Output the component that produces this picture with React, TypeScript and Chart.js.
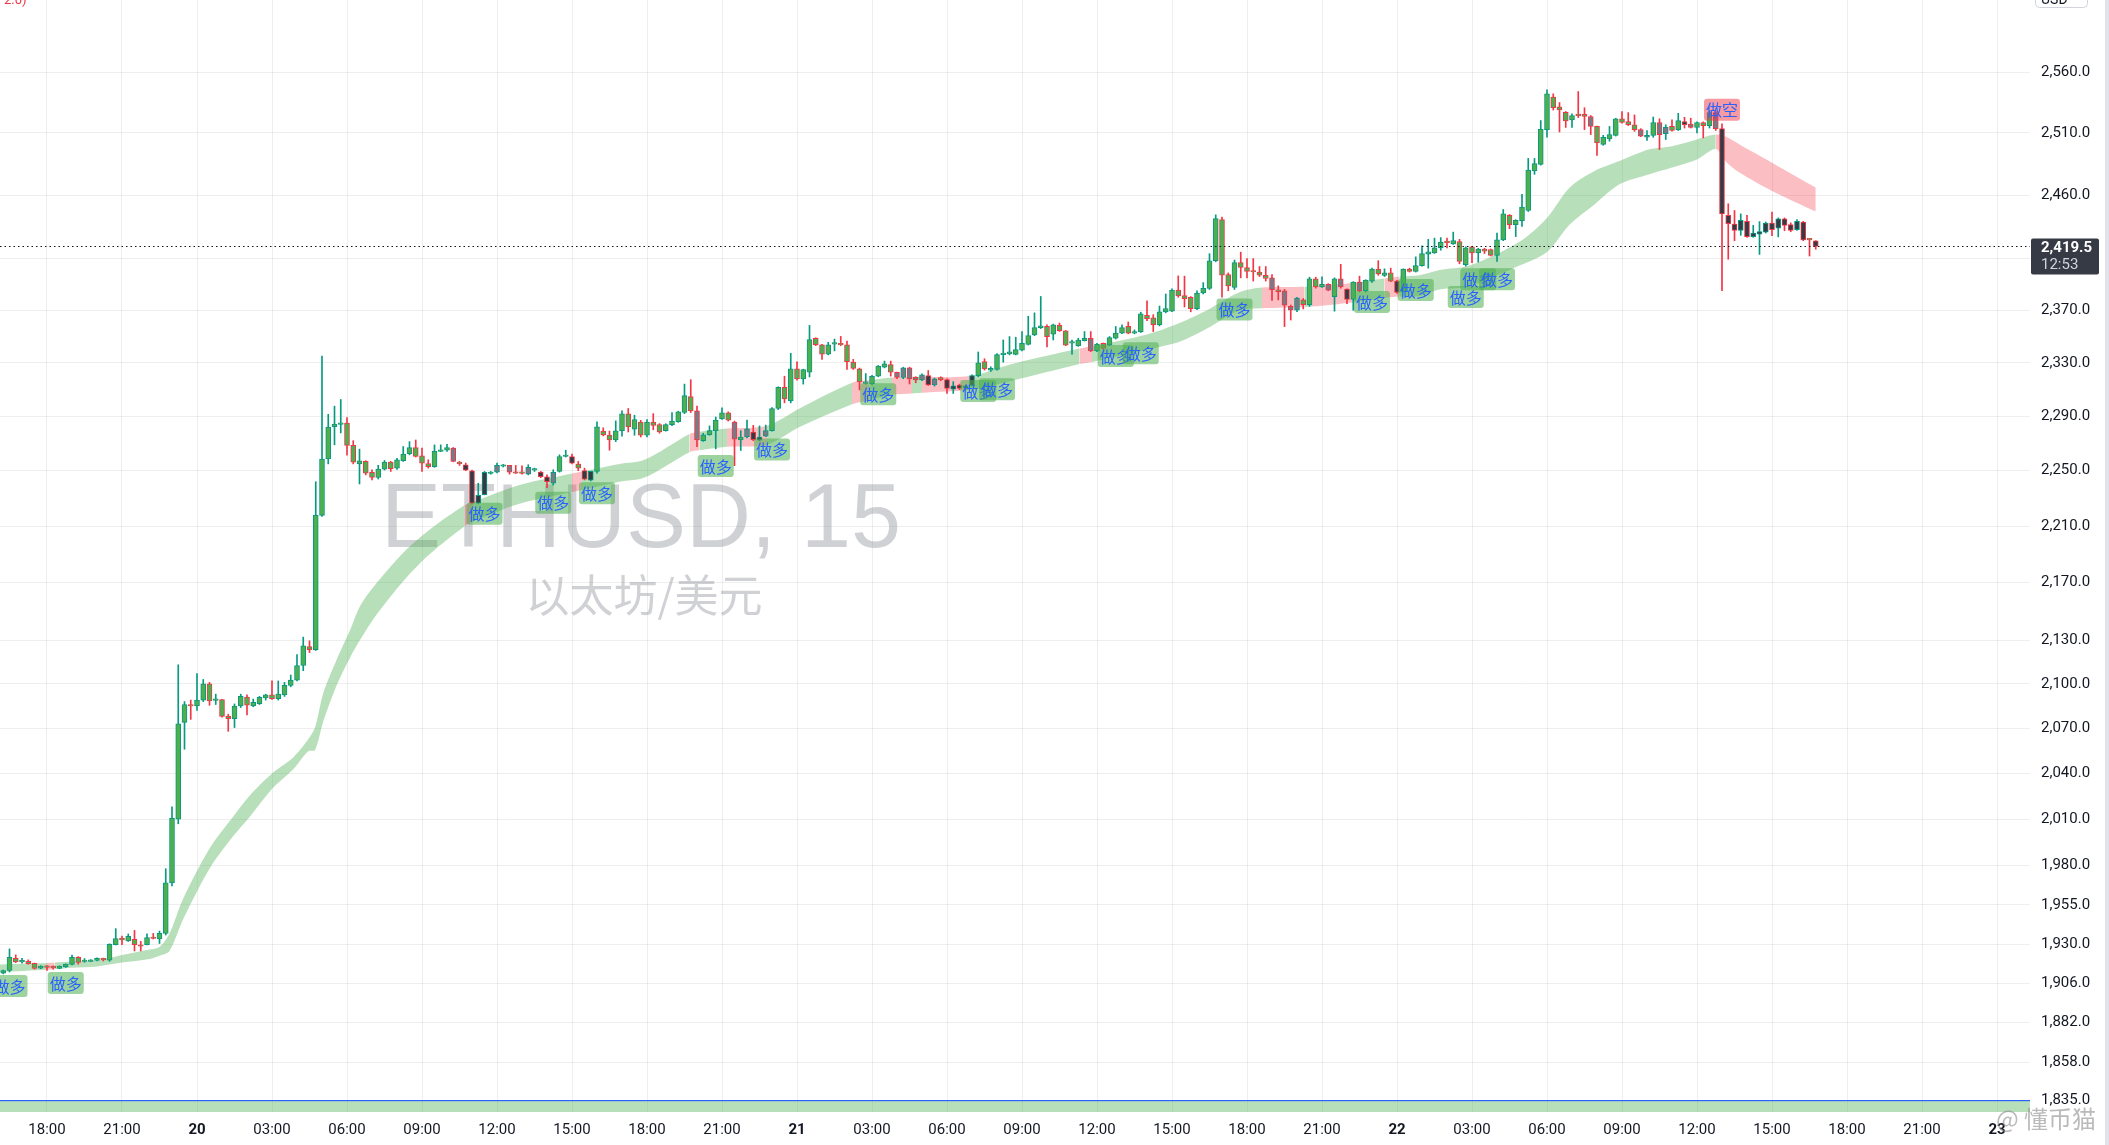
import React, { useEffect, useRef } from 'react';
import { Chart, registerables } from 'chart.js';

Chart.register(...registerables);

// ---------- time axis (hours counted from day 19, 00:00; one bar = 15 min) ----------
const FIRST_DAY = 19;
const FIRST_BAR_HOUR = 16.25;
const BAR_HOURS = 0.25;
const X_MIN_HOUR = 16.12;
const X_MAX_HOUR = 97.32;
const X_TICK_HOURS = [18, 21, 24, 27, 30, 33, 36, 39, 42, 45, 48, 51, 54, 57, 60, 63, 66, 69, 72, 75, 78, 81, 84, 87, 90, 93, 96];

// ---------- price axis ----------
const Y_MIN = 1828.2;
const Y_MAX = 2620.4;
const Y_TICKS = [1835, 1858, 1882, 1906, 1930, 1955, 1980, 2010, 2040, 2070, 2100, 2130, 2170, 2210, 2250, 2290, 2330, 2370, 2410, 2460, 2510, 2560];
const HIDDEN_Y_TICKS = [2410];
const LAST_PRICE = 2419.5;
const COUNTDOWN = '12:53';

const SYMBOL_TITLE = 'ETHUSD, 15';
const SYMBOL_DESC = '以太坊/美元';
const CURRENCY = 'USD';
const CORNER_TEXT = '2.0)';
const CREDIT = '@ 懂币猫';

// ---------- candles (ETHUSD 15m) ----------
const OPEN = [
  1912.2, 1914.0, 1921.5, 1919.2, 1919.6, 1918.3, 1915.4, 1916.6, 1916.2, 1915.2,
  1916.2, 1917.6, 1922.0, 1919.5, 1919.6, 1920.1, 1921.5, 1920.3, 1930.0, 1933.8,
  1932.3, 1933.3, 1929.8, 1930.0, 1934.6, 1933.6, 1937.0, 1969.0, 2010.0, 2074.0,
  2086.0, 2085.0, 2089.0, 2100.0, 2088.8, 2089.3, 2078.0, 2076.5, 2085.0, 2091.0,
  2085.0, 2086.5, 2090.5, 2092.5, 2090.0, 2092.5, 2099.0, 2102.5, 2112.5, 2125.5,
  2123.3, 2217.7, 2258.6, 2282.3, 2284.0, 2285.0, 2268.6, 2254.9, 2256.8, 2248.8,
  2245.1, 2251.2, 2256.3, 2251.9, 2257.3, 2262.4, 2267.0, 2260.9, 2255.3, 2252.9,
  2264.1, 2265.0, 2266.5, 2256.3, 2254.4, 2250.0, 2226.5, 2232.7, 2248.0, 2249.0,
  2253.3, 2253.9, 2248.9, 2248.8, 2247.5, 2250.4, 2249.0, 2245.6, 2240.9, 2249.5,
  2260.4, 2260.4, 2254.9, 2250.2, 2243.1, 2249.5, 2279.1, 2276.2, 2272.5, 2279.4,
  2291.8, 2280.4, 2285.8, 2276.0, 2285.8, 2283.8, 2279.4, 2283.8, 2286.0, 2292.8,
  2304.7, 2294.0, 2272.0, 2276.4, 2279.4, 2288.0, 2292.5, 2285.8, 2272.5, 2274.7,
  2278.4, 2272.3, 2275.4, 2279.4, 2295.8, 2311.5, 2301.6, 2325.4, 2317.8, 2322.9,
  2348.6, 2343.7, 2336.5, 2344.2, 2344.4, 2343.7, 2330.5, 2325.4, 2314.6, 2314.3,
  2319.9, 2326.7, 2328.7, 2322.9, 2319.1, 2326.2, 2319.1, 2317.1, 2320.4, 2313.3,
  2318.9, 2317.4, 2310.3, 2313.3, 2310.9, 2312.8, 2320.4, 2331.0, 2324.4, 2325.0,
  2336.2, 2336.7, 2336.4, 2339.6, 2344.0, 2351.2, 2356.6, 2357.6, 2351.7, 2358.4,
  2354.3, 2344.9, 2342.9, 2346.8, 2348.6, 2339.0, 2344.7, 2343.4, 2348.6, 2352.5,
  2357.6, 2352.5, 2353.7, 2366.1, 2364.1, 2358.9, 2368.7, 2369.2, 2385.6, 2381.3,
  2380.0, 2371.3, 2383.3, 2386.8, 2408.3, 2440.5, 2397.5, 2387.5, 2406.8, 2403.0,
  2400.5, 2399.5, 2397.0, 2395.0, 2385.8, 2385.0, 2373.0, 2370.0, 2378.0, 2374.3,
  2394.3, 2388.0, 2390.0, 2380.5, 2394.3, 2386.3, 2378.3, 2391.8, 2385.0, 2392.5,
  2401.8, 2396.8, 2398.8, 2392.5, 2384.3, 2401.8, 2400.0, 2404.5, 2413.5, 2414.4,
  2418.4, 2423.2, 2421.4, 2423.2, 2405.3, 2419.2, 2414.4, 2417.4, 2417.0, 2412.5,
  2424.6, 2444.0, 2436.6, 2439.8, 2447.8, 2479.3, 2484.6, 2512.7, 2539.4, 2531.4,
  2526.8, 2520.7, 2524.9, 2525.2, 2523.4, 2515.3, 2500.7, 2505.2, 2508.1, 2521.5,
  2519.3, 2516.7, 2512.7, 2506.5, 2508.1, 2518.5, 2509.5, 2515.3, 2512.7, 2519.3,
  2517.2, 2514.5, 2518.5, 2515.9, 2526.6, 2513.5, 2444.0, 2437.1, 2432.0, 2439.2,
  2427.2, 2429.1, 2430.7, 2437.9, 2433.9, 2441.1, 2436.6, 2432.6, 2438.7, 2425.4,
  2423.8,
];
const HIGH = [
  1914.2, 1927.3, 1923.6, 1921.5, 1920.5, 1918.5, 1916.9, 1916.9, 1916.8, 1916.8,
  1918.0, 1923.4, 1922.5, 1921.3, 1920.6, 1921.7, 1921.6, 1930.5, 1940.0, 1935.3,
  1936.7, 1938.9, 1932.1, 1936.7, 1937.0, 1938.5, 1978.0, 2018.0, 2113.0, 2088.0,
  2089.0, 2107.0, 2103.0, 2101.0, 2093.0, 2089.5, 2079.5, 2086.4, 2093.0, 2092.5,
  2089.7, 2091.5, 2093.0, 2102.0, 2102.0, 2101.0, 2106.0, 2120.0, 2132.0, 2129.5,
  2242.0, 2335.0, 2291.5, 2297.5, 2302.5, 2289.0, 2272.0, 2265.8, 2257.3, 2250.7,
  2254.0, 2257.5, 2256.8, 2259.0, 2267.7, 2271.3, 2272.5, 2266.5, 2258.0, 2268.9,
  2268.9, 2269.4, 2267.0, 2256.8, 2255.6, 2250.5, 2240.9, 2249.5, 2249.5, 2255.6,
  2254.6, 2254.0, 2253.9, 2253.6, 2254.4, 2251.9, 2249.5, 2247.0, 2250.7, 2261.6,
  2265.0, 2262.1, 2256.8, 2251.9, 2249.7, 2285.9, 2281.5, 2279.1, 2286.6, 2294.0,
  2295.8, 2290.8, 2287.0, 2287.5, 2292.0, 2284.6, 2284.5, 2292.8, 2293.8, 2314.0,
  2317.3, 2297.6, 2277.5, 2282.9, 2289.5, 2296.3, 2293.3, 2286.5, 2279.4, 2287.2,
  2283.3, 2282.9, 2283.5, 2296.5, 2312.0, 2319.9, 2337.2, 2330.8, 2325.2, 2358.4,
  2349.0, 2344.0, 2345.5, 2348.0, 2350.0, 2346.5, 2332.6, 2326.0, 2321.9, 2320.5,
  2328.0, 2331.3, 2331.3, 2323.0, 2326.7, 2326.7, 2319.5, 2321.7, 2324.2, 2318.5,
  2319.5, 2318.0, 2315.8, 2314.0, 2313.3, 2321.0, 2338.2, 2333.1, 2327.0, 2337.0,
  2347.3, 2349.9, 2349.4, 2353.7, 2365.4, 2368.0, 2380.6, 2358.9, 2359.4, 2360.2,
  2354.5, 2347.3, 2348.6, 2353.7, 2353.7, 2344.7, 2345.0, 2349.9, 2357.6, 2358.9,
  2361.0, 2355.0, 2368.5, 2377.2, 2366.6, 2373.2, 2382.5, 2386.4, 2396.5, 2396.3,
  2380.5, 2385.0, 2391.3, 2413.8, 2444.3, 2442.5, 2398.8, 2408.8, 2415.0, 2410.0,
  2410.0, 2403.8, 2403.8, 2397.5, 2388.8, 2386.0, 2374.0, 2380.0, 2379.0, 2395.5,
  2395.5, 2395.8, 2390.5, 2395.0, 2405.5, 2386.5, 2392.0, 2396.3, 2393.5, 2402.5,
  2408.3, 2402.0, 2402.5, 2393.0, 2402.0, 2402.5, 2411.3, 2420.0, 2425.0, 2426.0,
  2426.4, 2426.0, 2430.7, 2425.0, 2419.2, 2419.5, 2418.0, 2418.0, 2417.5, 2429.9,
  2448.6, 2444.6, 2440.5, 2460.6, 2489.4, 2489.4, 2520.1, 2545.2, 2542.0, 2534.8,
  2527.5, 2525.5, 2543.9, 2530.6, 2524.2, 2515.5, 2508.1, 2515.3, 2522.0, 2527.4,
  2526.6, 2524.7, 2513.5, 2511.9, 2523.0, 2521.5, 2516.7, 2520.7, 2526.0, 2522.8,
  2522.0, 2519.0, 2519.0, 2528.2, 2528.2, 2517.5, 2453.1, 2447.8, 2445.1, 2444.0,
  2436.0, 2439.0, 2438.7, 2446.5, 2441.9, 2441.9, 2438.0, 2440.6, 2439.2, 2425.6,
  2424.0,
];
const LOW = [
  1911.8, 1913.0, 1918.8, 1918.5, 1917.8, 1914.8, 1915.0, 1913.9, 1914.7, 1915.0,
  1915.8, 1917.4, 1917.8, 1919.0, 1919.4, 1919.9, 1919.8, 1919.6, 1929.8, 1929.9,
  1932.0, 1926.0, 1926.0, 1929.8, 1933.5, 1930.7, 1936.0, 1967.0, 2007.0, 2056.0,
  2076.0, 2082.0, 2088.0, 2085.5, 2086.0, 2077.5, 2068.0, 2070.5, 2084.0, 2079.0,
  2084.5, 2086.0, 2089.0, 2089.5, 2089.0, 2091.5, 2098.0, 2102.0, 2109.0, 2121.4,
  2122.8, 2217.0, 2255.0, 2269.0, 2277.7, 2261.4, 2255.0, 2240.4, 2247.0, 2243.3,
  2244.0, 2250.5, 2249.5, 2251.0, 2256.8, 2261.6, 2260.0, 2249.5, 2251.9, 2252.5,
  2264.0, 2264.1, 2256.5, 2253.9, 2250.0, 2226.0, 2226.0, 2232.5, 2247.5, 2248.5,
  2252.7, 2247.5, 2248.0, 2247.5, 2247.0, 2249.5, 2245.0, 2237.7, 2239.6, 2249.0,
  2260.0, 2255.0, 2250.0, 2243.3, 2242.6, 2248.3, 2275.5, 2265.0, 2271.3, 2275.4,
  2278.4, 2276.0, 2274.7, 2274.7, 2280.0, 2277.5, 2279.0, 2283.0, 2285.5, 2292.0,
  2292.8, 2267.6, 2271.5, 2276.0, 2266.0, 2287.7, 2286.5, 2253.7, 2264.8, 2274.0,
  2272.0, 2271.8, 2275.0, 2279.0, 2295.0, 2300.0, 2300.0, 2317.0, 2314.0, 2319.4,
  2343.0, 2332.6, 2336.0, 2339.0, 2343.0, 2325.0, 2325.0, 2309.7, 2314.0, 2313.5,
  2319.5, 2326.2, 2320.0, 2318.0, 2318.0, 2314.1, 2315.0, 2316.5, 2313.0, 2312.5,
  2316.5, 2307.0, 2307.0, 2310.0, 2310.3, 2312.5, 2319.5, 2324.5, 2323.5, 2324.5,
  2330.5, 2336.0, 2336.0, 2339.0, 2343.5, 2350.5, 2356.0, 2342.1, 2347.3, 2353.8,
  2343.0, 2336.5, 2342.5, 2346.5, 2338.5, 2338.5, 2340.3, 2343.0, 2348.0, 2352.0,
  2352.0, 2352.0, 2353.0, 2362.0, 2353.7, 2358.0, 2368.0, 2369.0, 2380.0, 2372.5,
  2368.8, 2370.5, 2382.5, 2386.0, 2407.5, 2380.0, 2385.0, 2386.0, 2395.0, 2395.0,
  2392.5, 2396.0, 2392.5, 2377.5, 2378.0, 2357.5, 2362.5, 2369.0, 2371.0, 2373.0,
  2387.0, 2387.5, 2385.0, 2369.3, 2387.0, 2375.0, 2370.0, 2384.0, 2384.0, 2391.5,
  2397.0, 2396.0, 2392.0, 2383.0, 2384.0, 2399.5, 2399.5, 2404.0, 2402.5, 2414.0,
  2416.5, 2418.4, 2421.0, 2405.9, 2404.0, 2406.7, 2407.2, 2413.9, 2412.0, 2407.7,
  2424.0, 2433.4, 2427.2, 2435.2, 2447.0, 2476.6, 2484.0, 2506.5, 2528.7, 2510.8,
  2514.5, 2514.5, 2522.5, 2512.7, 2508.7, 2491.8, 2500.0, 2503.3, 2507.5, 2518.0,
  2516.0, 2511.3, 2507.0, 2503.9, 2506.5, 2496.6, 2504.7, 2511.5, 2512.0, 2514.0,
  2514.0, 2510.0, 2506.0, 2514.0, 2512.0, 2385.0, 2409.5, 2423.9, 2428.2, 2426.6,
  2426.6, 2413.2, 2430.0, 2428.0, 2427.0, 2431.8, 2431.0, 2432.0, 2424.0, 2412.0,
  2417.3,
];
const CLOSE = [
  1913.8, 1922.0, 1919.2, 1920.2, 1918.2, 1915.2, 1916.6, 1915.8, 1915.5, 1916.6,
  1917.8, 1922.0, 1918.9, 1920.3, 1920.3, 1921.5, 1920.4, 1930.2, 1933.8, 1933.0,
  1935.2, 1930.0, 1929.0, 1934.4, 1933.8, 1937.0, 1969.0, 2010.5, 2073.0, 2086.0,
  2085.0, 2089.0, 2100.0, 2088.5, 2089.6, 2078.0, 2076.5, 2085.0, 2091.5, 2085.5,
  2087.5, 2090.8, 2092.5, 2090.0, 2093.0, 2099.0, 2102.5, 2112.5, 2126.0, 2123.3,
  2217.7, 2258.6, 2282.0, 2284.3, 2285.0, 2268.6, 2256.3, 2257.3, 2248.3, 2245.1,
  2251.2, 2256.3, 2251.5, 2258.0, 2262.1, 2267.0, 2260.4, 2255.6, 2252.9, 2264.1,
  2265.0, 2267.0, 2256.8, 2255.1, 2250.5, 2226.5, 2232.2, 2248.8, 2249.0, 2253.9,
  2254.0, 2249.0, 2248.2, 2248.1, 2252.4, 2251.1, 2245.6, 2242.1, 2248.8, 2260.4,
  2261.4, 2255.6, 2251.9, 2243.8, 2249.5, 2282.2, 2276.2, 2272.5, 2279.3, 2291.8,
  2282.1, 2287.5, 2276.0, 2285.8, 2283.3, 2278.4, 2283.8, 2286.5, 2293.3, 2305.4,
  2294.0, 2272.5, 2276.4, 2279.4, 2287.2, 2292.5, 2287.2, 2273.2, 2274.7, 2280.7,
  2272.8, 2274.7, 2279.4, 2295.8, 2311.5, 2302.9, 2325.4, 2317.8, 2324.9, 2347.6,
  2343.7, 2336.5, 2343.7, 2345.0, 2343.6, 2330.8, 2325.7, 2315.6, 2315.4, 2319.9,
  2327.5, 2329.2, 2322.9, 2319.1, 2326.2, 2317.9, 2317.1, 2320.9, 2313.3, 2317.9,
  2317.4, 2310.8, 2312.8, 2310.8, 2312.8, 2320.4, 2330.0, 2325.4, 2325.9, 2336.2,
  2337.0, 2338.3, 2340.0, 2344.7, 2350.7, 2356.8, 2358.1, 2349.9, 2358.9, 2354.3,
  2343.4, 2345.6, 2347.3, 2348.6, 2339.0, 2344.2, 2340.8, 2349.1, 2352.5, 2356.8,
  2352.5, 2353.7, 2367.2, 2363.6, 2358.9, 2368.7, 2371.3, 2385.6, 2381.1, 2378.8,
  2371.3, 2383.3, 2386.8, 2408.3, 2441.3, 2397.0, 2388.8, 2406.8, 2403.0, 2400.0,
  2399.5, 2397.0, 2394.5, 2385.8, 2384.3, 2373.8, 2370.0, 2379.3, 2374.3, 2394.3,
  2388.0, 2390.0, 2385.5, 2394.3, 2388.0, 2378.3, 2391.8, 2385.0, 2393.3, 2401.8,
  2398.0, 2398.8, 2392.5, 2383.8, 2401.8, 2400.0, 2404.5, 2413.8, 2415.3, 2418.4,
  2422.7, 2422.4, 2424.0, 2407.7, 2418.4, 2414.4, 2417.4, 2415.8, 2412.5, 2424.6,
  2445.1, 2436.6, 2440.0, 2450.5, 2480.1, 2485.2, 2513.2, 2542.0, 2530.6, 2528.7,
  2519.9, 2524.2, 2524.1, 2523.4, 2515.3, 2502.0, 2506.5, 2508.7, 2521.5, 2518.5,
  2516.7, 2512.7, 2507.3, 2508.1, 2518.5, 2508.7, 2514.5, 2512.1, 2520.1, 2516.7,
  2514.5, 2518.5, 2515.9, 2526.6, 2513.5, 2445.1, 2437.4, 2432.0, 2440.0, 2427.2,
  2429.9, 2431.2, 2437.9, 2432.6, 2441.1, 2436.0, 2432.0, 2439.2, 2424.6, 2424.6,
  2419.5,
];
// body fill colour coded by the indicator: g = green, s = grey, k = dark
const BODY_FILL_ROWS = [
  'gggggggggg', 'gggggggggg', 'gggggggggg', 'gggggggggg', 'gggggggggg',
  'gggggggggg', 'gggggggggg', 'ggsgkkkkgs', 'gsggsgkksg', 'gkgkkggggg',
  'gggggggggg', 'gsgggggsgs', 'kksggggggg', 'gggggggggg', 'gggsssssks',
  'gkkkkkgggg', 'gggggggggg', 'ggggsggggg', 'gggggggggg', 'gggggggggg',
  'gggsgsssgg', 'ggsgskgsgg', 'gggkgggggg', 'gggggggggg', 'gggggggggg',
  'ggggsggggg', 'ggssgssggk', 'sgggskkkkk', 'kkkkkkkkkg', 'k',
];

// ---------- trend ribbon (upper / lower edge), red flag = segment starting at the point ----------
const BAND_TIME = [
  16.1, 18.0, 18.3, 19.0, 20.0, 21.0, 22.1, 22.5, 22.9, 23.45,
  24.5, 25.45, 26.12, 27.0, 27.85, 28.45, 28.72, 29.05, 29.59, 30.12,
  30.52, 31.2, 32.3, 33.3, 34.7, 35.0, 36.9, 39.0, 39.4, 40.9,
  41.9, 43.7, 44.1, 45.2, 46.8, 48.1, 50.2, 50.9, 51.8, 52.6,
  53.0, 54.9, 56.6, 59.3, 59.8, 62.0, 63.3, 64.4, 65.7, 66.6,
  68.3, 68.6, 70.2, 71.5, 72.1, 72.9, 73.7, 74.9, 76.9, 78.0,
  78.9, 79.9, 80.9, 82.1, 83.0, 84.0, 84.75, 85.2, 85.7, 87.0,
  88.75,
];
const BAND_UPPER = [
  1917.6, 1918.5, 1918.8, 1919.5, 1920.1, 1923.5, 1926.9, 1928.5, 1937.0, 1959.0,
  1991.0, 2011.8, 2025.7, 2040.0, 2050.6, 2062.6, 2070.5, 2093.7, 2116.6, 2136.7,
  2153.5, 2170.0, 2192.0, 2207.5, 2225.0, 2227.0, 2239.6, 2248.0, 2249.5, 2255.0,
  2258.0, 2277.0, 2278.5, 2280.9, 2283.0, 2295.8, 2315.0, 2317.0, 2319.0, 2319.5,
  2319.5, 2320.0, 2329.2, 2340.8, 2342.5, 2351.5, 2360.2, 2370.0, 2383.8, 2387.5,
  2388.0, 2388.3, 2391.0, 2394.5, 2396.0, 2397.0, 2401.0, 2404.5, 2423.2, 2441.9,
  2465.9, 2479.3, 2487.3, 2496.7, 2499.3, 2504.7, 2508.7, 2506.5, 2500.7, 2486.0,
  2466.0,
];
const BAND_LOWER = [
  1912.9, 1914.3, 1914.6, 1915.6, 1916.4, 1918.8, 1921.0, 1923.0, 1926.0, 1946.0,
  1978.0, 1999.0, 2011.8, 2029.8, 2042.7, 2054.6, 2055.5, 2074.5, 2099.2, 2117.9,
  2130.0, 2148.0, 2172.0, 2190.0, 2210.0, 2213.0, 2226.0, 2234.5, 2236.0, 2242.0,
  2245.0, 2263.6, 2265.0, 2267.5, 2269.0, 2282.0, 2299.0, 2302.0, 2306.0, 2307.0,
  2307.5, 2309.7, 2316.6, 2329.2, 2330.7, 2340.0, 2346.0, 2356.0, 2370.0, 2371.5,
  2372.5, 2372.8, 2376.0, 2379.5, 2380.5, 2381.0, 2386.0, 2388.5, 2404.5, 2415.2,
  2436.6, 2452.6, 2468.6, 2476.6, 2482.0, 2488.6, 2497.0, 2486.0, 2478.0, 2463.3,
  2447.0,
];
const BAND_RED = [
  0, 1, 0, 0, 0, 0, 0, 0, 0, 0,
  0, 0, 0, 0, 0, 0, 0, 0, 0, 0,
  0, 0, 0, 0, 1, 0, 0, 1, 0, 0,
  0, 1, 0, 1, 0, 0, 1, 0, 1, 0,
  1, 0, 0, 1, 0, 0, 0, 0, 0, 1,
  0, 1, 0, 1, 0, 0, 0, 0, 0, 0,
  0, 0, 0, 0, 0, 0, 1, 1, 1, 1,
  1,
];

// ---------- signals ----------
const LONG_SIGNAL_BARS = [1, 10, 77, 88, 95, 114, 123, 140, 156, 159, 178, 182, 197, 219, 226, 234, 236, 239];
const LONG_SIGNAL_PRICES = [1911.1, 1913.0, 2226.8, 2234.8, 2241.6, 2261.5, 2273.7, 2314.6, 2317.1, 2318.3, 2343.5, 2345.5, 2379.1, 2384.8, 2394.1, 2388.6, 2402.4, 2402.4];
const SHORT_SIGNAL_BARS = [275];
const SHORT_SIGNAL_PRICES = [2520.0];
const LONG_TEXT = '做多';
const SHORT_TEXT = '做空';

// ---------- styles ----------
const UP = '#089981';
const DOWN = '#f23645';
const FILL: Record<string, string> = { g: '#4caf50', s: '#787b86', k: '#363a45' };
const BAND_GREEN = 'rgba(76,175,80,0.4)';
const BAND_PINK = 'rgba(242,54,69,0.32)';
const GRID = 'rgba(0,0,0,0.065)';
const TEXT = '#131722';
const AXIS_FONT = 'Roboto, "Liberation Sans", Arial, sans-serif';
const CJK_FONT = '"Noto Sans CJK SC", "Noto Sans", sans-serif';
const LATIN_FONT = '"Liberation Sans", Arial, sans-serif';
const WATERMARK = 'rgba(120,123,134,0.35)';

const fmtPrice = (v: number) => v.toLocaleString('en-US', { minimumFractionDigits: 1, maximumFractionDigits: 1 });
const fmtHour = (v: number) => {
  const h = ((v % 24) + 24) % 24;
  if (h === 0) return String(FIRST_DAY + Math.round(v / 24));
  return (h < 10 ? '0' : '') + h + ':00';
};
const barHour = (i: number) => FIRST_BAR_HOUR + i * BAR_HOURS;

function roundRect(ctx: CanvasRenderingContext2D, x: number, y: number, w: number, h: number, r: number) {
  ctx.beginPath();
  ctx.moveTo(x + r, y);
  ctx.arcTo(x + w, y, x + w, y + h, r);
  ctx.arcTo(x + w, y + h, x, y + h, r);
  ctx.arcTo(x, y + h, x, y, r);
  ctx.arcTo(x, y, x + w, y, r);
  ctx.closePath();
}

const decorPlugin = {
  id: 'tvDecor',
  beforeDatasetsDraw(chart: any) {
    const { ctx, chartArea: a } = chart;
    ctx.save();
    ctx.beginPath();
    ctx.rect(a.left, a.top, a.right - a.left, a.bottom - a.top);
    ctx.clip();
    ctx.fillStyle = WATERMARK;
    ctx.textAlign = 'center';
    ctx.textBaseline = 'alphabetic';
    ctx.font = `90px ${LATIN_FONT}`;
    ctx.fillText(SYMBOL_TITLE, a.left + 641, a.top + 547);
    ctx.font = `44px ${CJK_FONT}`;
    ctx.fillText(SYMBOL_DESC, a.left + 644, a.top + 612);
    // bottom indicator strip
    ctx.fillStyle = BAND_GREEN;
    ctx.fillRect(a.left, a.bottom - 11, a.right - a.left, 11);
    ctx.fillStyle = '#2962ff';
    ctx.fillRect(a.left, a.bottom - 12, a.right - a.left, 1.2);
    ctx.restore();
  },
  afterDatasetsDraw(chart: any) {
    const { ctx, chartArea: a, scales } = chart;
    const xs = scales.x;
    const ys = scales.y;
    ctx.save();
    ctx.beginPath();
    ctx.rect(a.left, a.top, a.right - a.left, a.bottom - a.top);
    ctx.clip();
    // last price dotted line
    const py = Math.round(ys.getPixelForValue(LAST_PRICE)) + 0.5;
    ctx.strokeStyle = TEXT;
    ctx.lineWidth = 1;
    ctx.setLineDash([1.5, 3]);
    ctx.beginPath();
    ctx.moveTo(a.left, py);
    ctx.lineTo(a.right, py);
    ctx.stroke();
    ctx.setLineDash([]);
    // signal labels
    ctx.font = `16px ${CJK_FONT}`;
    ctx.textAlign = 'center';
    ctx.textBaseline = 'middle';
    LONG_SIGNAL_BARS.forEach((b, k) => {
      const cx = xs.getPixelForValue(barHour(b));
      const top = ys.getPixelForValue(LONG_SIGNAL_PRICES[k]);
      ctx.fillStyle = 'rgba(76,175,80,0.55)';
      roundRect(ctx, cx - 18, top, 36, 22, 3);
      ctx.fill();
      ctx.fillStyle = '#2962ff';
      ctx.fillText(LONG_TEXT, cx, top + 11.5);
    });
    SHORT_SIGNAL_BARS.forEach((b, k) => {
      const cx = xs.getPixelForValue(barHour(b));
      const bottom = ys.getPixelForValue(SHORT_SIGNAL_PRICES[k]);
      ctx.fillStyle = 'rgba(242,54,69,0.5)';
      roundRect(ctx, cx - 18, bottom - 22, 36, 22, 3);
      ctx.fill();
      ctx.fillStyle = '#2962ff';
      ctx.fillText(SHORT_TEXT, cx, bottom - 10.5);
    });
    // clipped indicator title at top-left
    ctx.fillStyle = DOWN;
    ctx.font = `13px ${AXIS_FONT}`;
    ctx.textAlign = 'left';
    ctx.textBaseline = 'alphabetic';
    ctx.fillText(CORNER_TEXT, a.left + 4, a.top + 4);
    ctx.restore();
  },
  afterDraw(chart: any) {
    const { ctx, chartArea: a, scales, width, height } = chart;
    const ys = scales.y;
    ctx.save();
    // last price tag
    const py = ys.getPixelForValue(LAST_PRICE);
    ctx.fillStyle = '#363a45';
    roundRect(ctx, a.right + 1, py - 8, 68, 36, 2);
    ctx.fill();
    ctx.textAlign = 'left';
    ctx.textBaseline = 'middle';
    ctx.fillStyle = '#ffffff';
    ctx.font = `bold 15px ${AXIS_FONT}`;
    ctx.fillText(fmtPrice(LAST_PRICE), a.right + 11, py + 1.5);
    ctx.fillStyle = '#d1d4dc';
    ctx.font = `15px ${AXIS_FONT}`;
    ctx.fillText(COUNTDOWN, a.right + 11, py + 19);
    // currency button (clipped at top)
    ctx.strokeStyle = '#d1d4dc';
    ctx.lineWidth = 1;
    roundRect(ctx, a.right + 5.5, -14.5, 52, 22, 4);
    ctx.stroke();
    ctx.fillStyle = TEXT;
    ctx.font = `14px ${AXIS_FONT}`;
    ctx.textBaseline = 'alphabetic';
    ctx.fillText(CURRENCY, a.right + 11, 4);
    // right edge strip
    ctx.fillStyle = '#e0e3eb';
    ctx.fillRect(width - 4, 0, 4, height);
    // credit watermark
    ctx.fillStyle = 'rgba(140,140,140,0.6)';
    ctx.font = `24px ${CJK_FONT}`;
    ctx.textBaseline = 'middle';
    ctx.fillText(CREDIT, 1996, 1119);
    ctx.restore();
  },
};

export default function App() {
  const ref = useRef<HTMLCanvasElement>(null);

  useEffect(() => {
    const canvas = ref.current;
    if (!canvas) return;
    const fills = BODY_FILL_ROWS.join('').split('');
    const lineColors = OPEN.map((o, i) => (CLOSE[i] >= o ? UP : DOWN));
    const fillColors = OPEN.map((_, i) => FILL[fills[i]] || FILL.g);
    const wickData = OPEN.map((o, i) => ({
      x: barHour(i),
      y: [Math.min(LOW[i], o, CLOSE[i]), Math.max(HIGH[i], o, CLOSE[i])],
    }));
    const bodyData = OPEN.map((o, i) => ({ x: barHour(i), y: [Math.min(o, CLOSE[i]), Math.max(o, CLOSE[i])] }));
    const lowerData = BAND_TIME.map((t, i) => ({ x: t, y: BAND_LOWER[i] }));
    const upperData = BAND_TIME.map((t, i) => ({ x: t, y: BAND_UPPER[i] }));

    const chart = new Chart(canvas, {
      type: 'bar',
      data: {
        datasets: [
          {
            type: 'line', label: 'ribbon low', data: lowerData, borderColor: 'rgba(0,0,0,0)', borderWidth: 1,
            pointRadius: 0, fill: false, order: 3, tension: 0.3,
          },
          {
            type: 'line', label: 'ribbon high', data: upperData, borderColor: 'rgba(0,0,0,0)', borderWidth: 1,
            pointRadius: 0, fill: '-1', backgroundColor: BAND_GREEN, order: 3, tension: 0.3,
            segment: { backgroundColor: (c: any) => (BAND_RED[c.p0DataIndex] ? BAND_PINK : BAND_GREEN) },
          },
          {
            type: 'bar', label: 'wicks', data: wickData, backgroundColor: lineColors, borderWidth: 0,
            barThickness: 1, grouped: false, order: 2,
          },
          {
            type: 'bar', label: 'bodies', data: bodyData, backgroundColor: fillColors, borderColor: lineColors,
            borderWidth: 1, borderSkipped: false, barThickness: 5, minBarLength: 1.5, grouped: false, order: 1,
          },
        ] as any,
      },
      options: {
        responsive: false,
        animation: false,
        devicePixelRatio: 1,
        events: [],
        layout: { padding: 0 },
        plugins: { legend: { display: false }, tooltip: { enabled: false }, title: { display: false } },
        scales: {
          x: {
            type: 'linear', min: X_MIN_HOUR, max: X_MAX_HOUR, offset: false,
            grid: { color: GRID, drawTicks: false, offset: false },
            border: { display: false },
            ticks: {
              padding: 9, color: TEXT, autoSkip: false, maxRotation: 0, minRotation: 0,
              font: (c: any) => ({ family: AXIS_FONT, size: 15, weight: c.tick && c.tick.value % 24 === 0 ? 'bold' : 'normal' }),
              callback: (v: any) => fmtHour(Number(v)),
            },
            afterBuildTicks: (s: any) => { s.ticks = X_TICK_HOURS.map((v) => ({ value: v })); },
            afterFit: (s: any) => { s.height = 33; s.paddingLeft = 0; s.paddingRight = 0; },
          },
          y: {
            type: 'logarithmic', position: 'right', min: Y_MIN, max: Y_MAX, beginAtZero: false,
            grid: { color: GRID, drawTicks: false },
            border: { display: false },
            ticks: {
              padding: 11, color: TEXT, autoSkip: false, font: { family: AXIS_FONT, size: 15 },
              callback: (v: any) => (HIDDEN_Y_TICKS.includes(Number(v)) ? '' : fmtPrice(Number(v))),
            },
            afterBuildTicks: (s: any) => { s.ticks = Y_TICKS.map((v) => ({ value: v })); },
            afterFit: (s: any) => { s.width = 79; s.paddingTop = 0; s.paddingBottom = 0; },
          },
        } as any,
      } as any,
      plugins: [decorPlugin as any],
    } as any);

    return () => chart.destroy();
  }, []);

  return (
    <div style={{ position: 'fixed', left: 0, top: 0, width: 2109, height: 1145, background: '#ffffff', overflow: 'hidden' }}>
      <canvas ref={ref} width={2109} height={1145} style={{ display: 'block', width: 2109, height: 1145 }} />
    </div>
  );
}
